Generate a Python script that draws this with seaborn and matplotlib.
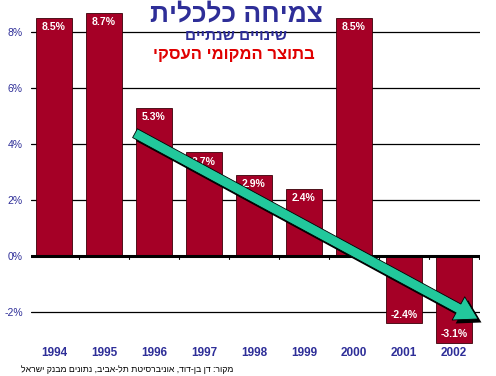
import numpy as np
import pandas as pd
import matplotlib
matplotlib.use("Agg")
import matplotlib.pyplot as plt
import matplotlib.patheffects as pe
import seaborn as sns

# Data
years = ["1994", "1995", "1996", "1997", "1998", "1999", "2000", "2001", "2002"]
growth = [8.5, 8.7, 5.3, 3.7, 2.9, 2.4, 8.5, -2.4, -3.1]
y_ticks = [-2, 0, 2, 4, 6, 8]
y_tick_labels = ["-2%", "0%", "2%", "4%", "6%", "8%"]

title = "צמיחה כלכלית"
subtitle = "שינויים שנתיים"
subtitle2 = "בתוצר המקומי העסקי"
source = "מקור: דן בן-דוד, אוניברסיטת תל-אביב, נתונים מבנק ישראל"


def rtl(s):
    # matplotlib has no bidi support, so flip Hebrew to visual order
    return s[::-1]


sns.set_style("white")
plt.rcParams['font.family'] = ['Liberation Sans', 'DejaVu Sans']

navy = "#2e2e98"
bar_color = "#a50026"

df = pd.DataFrame({"year": years, "growth": growth})

fig = plt.figure(figsize=(4.96, 3.76), dpi=100)
ax = fig.add_axes([31 / 496, 0.0809, 449 / 496, 0.908])

sns.barplot(data=df, x="year", y="growth", color=bar_color, width=0.72,
            edgecolor="#3a0008", linewidth=0.6, saturation=1, ax=ax, zorder=3)

ax.set_xlim(-0.46, 8.52)
ax.set_ylim(-3.2, 9.0)

# gridlines
for t in y_ticks:
    if t != 0:
        ax.axhline(t, color="black", lw=0.9, zorder=1)
ax.axhline(0, color="black", lw=2.2, zorder=4)
for k in range(len(years) + 1):
    ax.plot([k - 0.5, k - 0.5], [0, -0.12], color="black", lw=0.8, zorder=4)

for s in ax.spines.values():
    s.set_visible(False)

ax.set_yticks(y_ticks)
ax.set_yticklabels(y_tick_labels, color=navy, fontsize=7.5)
ax.tick_params(axis="y", length=0, pad=6)
ax.set_xticks(range(len(years)))
ax.set_xticklabels(years, color=navy, fontsize=8.5, fontweight="bold")
ax.tick_params(axis="x", length=0, pad=1)
ax.set_xlabel("")
ax.set_ylabel("")

# value labels
for i, v in enumerate(growth):
    off = -6.5 if v > 0 else 6
    ax.annotate(f"{v}%", (i, v), xytext=(0, off), textcoords="offset points",
                ha="center", va="center", color="white", fontsize=7.5,
                fontweight="bold", zorder=6)

# trend arrow
ax.annotate("", xy=(8.48, -2.25), xytext=(1.62, 4.39),
            arrowprops=dict(arrowstyle="simple,head_length=1.6,head_width=1.9,tail_width=0.72",
                            fc="#22c89c", ec="black", lw=0.6, mutation_scale=10,
                            shrinkA=0, shrinkB=0,
                            path_effects=[pe.SimplePatchShadow(offset=(2.5, -2.5), shadow_rgbFace="black", alpha=1),
                                          pe.Normal()]),
            zorder=7)

# titles
fig.text(236 / 496, 1 - 14 / 376, rtl(title), ha="center", va="center",
         fontsize=19, fontweight="bold", color=navy)
fig.text(236 / 496, 1 - 35.5 / 376, rtl(subtitle), ha="center", va="center",
         fontsize=11, fontweight="bold", color=navy)
fig.text(234 / 496, 1 - 54 / 376, rtl(subtitle2), ha="center", va="center",
         fontsize=12, fontweight="bold", color="#e00000")
fig.text(233 / 496, 7 / 376, rtl(source), ha="right", va="center",
         fontsize=6.3, color="black")

plt.savefig("out.png", dpi=100)
